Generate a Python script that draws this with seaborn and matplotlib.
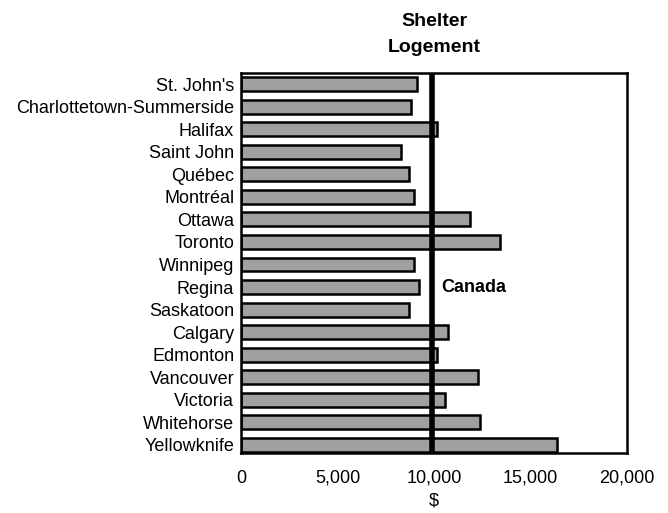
import pandas as pd
import matplotlib
matplotlib.use('Agg')
import matplotlib.pyplot as plt
import seaborn as sns

# Shelter spending by city, with Canada average as reference line
cities = ["St. John's", "Charlottetown-Summerside", "Halifax", "Saint John", "Québec",
          "Montréal", "Ottawa", "Toronto", "Winnipeg", "Regina", "Saskatoon", "Calgary",
          "Edmonton", "Vancouver", "Victoria", "Whitehorse", "Yellowknife"]
shelter = [9130, 8790, 10140, 8280, 8720, 8960, 11870, 13420, 8960, 9220, 8720,
           10690, 10140, 12250, 10570, 12350, 16360]
canada_avg = 9900
xticks = [0, 5000, 10000, 15000, 20000]

df = pd.DataFrame({'City': cities, 'Shelter': shelter})

sns.set_style('white')
plt.rcParams['font.family'] = ['Liberation Sans', 'DejaVu Sans']
plt.rcParams['text.color'] = 'black'
plt.rcParams['xtick.color'] = 'black'
plt.rcParams['ytick.color'] = 'black'
plt.rcParams['axes.labelcolor'] = 'black'

fig = plt.figure(figsize=(6.68, 5.13), dpi=100)
ax = fig.add_axes([0.361, 0.117, 0.578, 0.741])

sns.barplot(data=df, y='City', x='Shelter', orient='h', color='#a0a0a0',
            edgecolor='black', linewidth=1.8, width=0.62, saturation=1, ax=ax)

ax.axvline(canada_avg, color='black', linewidth=4, zorder=5)
ax.text(canada_avg + 450, cities.index('Regina'), 'Canada', fontsize=13,
        fontweight='bold', va='center', ha='left')

ax.set_xlim(0, 20000)
ax.set_ylim(len(cities) - 0.64, -0.5)
ax.set_xticks(xticks)
ax.set_xticklabels(['{:,}'.format(t) for t in xticks], fontsize=13)
ax.tick_params(axis='x', direction='in', length=4, width=1.5, pad=12)
ax.tick_params(axis='y', length=0, labelsize=13, pad=5)
ax.set_ylabel('')
ax.set_xlabel('$', fontsize=13, labelpad=4)
for s in ax.spines.values():
    s.set_visible(True)
    s.set_color('black')
    s.set_linewidth(1.8)

ax.set_title('Shelter\nLogement', fontsize=14, fontweight='bold', pad=15,
             linespacing=1.7)

fig.savefig('out.png', dpi=100)
